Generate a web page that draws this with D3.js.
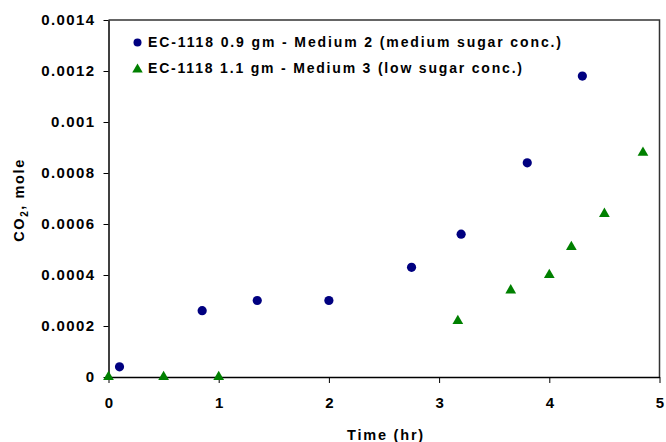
<!DOCTYPE html>
<html>
<head>
<meta charset="utf-8">
<script src="https://cdn.jsdelivr.net/npm/d3@7"></script>
<style>
  body { margin: 0; background: #fff; }
  text { font-family: Arial, "Liberation Sans", sans-serif; font-weight: bold; }
</style>
</head>
<body>
<svg id="chart" width="666" height="442"></svg>
<script>
// series 1: EC-1118 0.9 gm - Medium 2
const medium2Time = [0.1, 0.85, 1.35, 2.0, 2.75, 3.2, 3.8, 4.3];
const medium2CO2 = [0.00004, 0.00026, 0.0003, 0.0003, 0.00043, 0.00056, 0.00084, 0.00118];
// series 2: EC-1118 1.1 gm - Medium 3
const medium3Time = [0, 0.5, 1.0, 3.17, 3.65, 4.0, 4.2, 4.5, 4.85];
const medium3CO2 = [0, 0, 0, 0.00022, 0.00034, 0.0004, 0.00051, 0.00064, 0.00088];

const seriesNames = [
  "EC-1118 0.9 gm - Medium 2 (medium sugar conc.)",
  "EC-1118 1.1 gm - Medium 3 (low sugar conc.)"
];
const xTicks = [0, 1, 2, 3, 4, 5];
const yTicks = [0, 0.0002, 0.0004, 0.0006, 0.0008, 0.001, 0.0012, 0.0014];
const yTickLabels = ["0", "0.0002", "0.0004", "0.0006", "0.0008", "0.001", "0.0012", "0.0014"];

var margin = { top: 20, right: 6, bottom: 65, left: 108.5 },
  width = 666 - margin.left - margin.right,
  height = 442 - margin.top - margin.bottom;

const svg = d3.select("#chart");
const g = svg.append("g")
  .attr("transform", "translate(" + margin.left + "," + margin.top + ")");

var xScale = d3.scaleLinear().domain([0, 5]).range([0, 551]);
var yScale = d3.scaleLinear().domain([0, 0.0014]).range([357, 0]);

// plot frame (top & right)
g.append("path")
  .attr("d", "M0,0H" + xScale(5) + "V" + yScale(0))
  .attr("fill", "none")
  .attr("stroke", "#333")
  .attr("stroke-width", 1.5);

function styleTicks(sel) {
  sel.selectAll("text")
    .attr("font-size", 15)
    .attr("fill", "#000")
    .style("font-family", "Arial, 'Liberation Sans', sans-serif")
    .style("font-weight", "bold")
    .style("letter-spacing", "1.4px");
  sel.select(".domain").attr("stroke", "#000").attr("stroke-width", 1.5);
  sel.selectAll(".tick line").attr("stroke", "#000");
}

// x axis
const xAxis = g.append("g")
  .attr("transform", "translate(0," + yScale(0) + ")")
  .call(d3.axisBottom(xScale).tickValues(xTicks).tickFormat(d3.format("d")).tickSize(6).tickSizeOuter(0).tickPadding(14.5));
styleTicks(xAxis);
xAxis.selectAll("text").attr("dx", 0.7);

// y axis
const yAxis = g.append("g")
  .call(d3.axisLeft(yScale).tickValues(yTicks).tickFormat((d, i) => yTickLabels[i]).tickSize(5).tickSizeOuter(0).tickPadding(8));
styleTicks(yAxis);

// axis titles
svg.append("text")
  .attr("x", 386).attr("y", 440)
  .attr("text-anchor", "middle")
  .attr("font-size", 14.5)
  .style("letter-spacing", "1.8px")
  .text("Time (hr)");

const yTitle = svg.append("text")
  .attr("transform", "translate(23.5,200) rotate(-90)")
  .attr("text-anchor", "middle")
  .attr("font-size", 14.5)
  .style("letter-spacing", "1.6px");
yTitle.append("tspan").text("CO");
yTitle.append("tspan").attr("font-size", 10).attr("dy", 4).text("2");
yTitle.append("tspan").attr("dy", -4).text(", mole");

// markers
const blue = "#000080", green = "#008000";
const tri = d3.symbol().type(d3.symbolTriangle).size(50);

g.selectAll(".m2")
  .data(medium2Time.map((t, i) => [t, medium2CO2[i]]))
  .enter().append("circle")
  .attr("class", "m2")
  .attr("cx", d => xScale(d[0]))
  .attr("cy", d => yScale(d[1]))
  .attr("r", 4.6)
  .attr("fill", blue);

g.selectAll(".m3")
  .data(medium3Time.map((t, i) => [t, medium3CO2[i]]))
  .enter().append("path")
  .attr("class", "m3")
  .attr("transform", d => "translate(" + xScale(d[0]) + "," + yScale(d[1]) + ")")
  .attr("d", tri)
  .attr("fill", green);

// legend
const legend = svg.append("g");
legend.append("circle").attr("cx", 137.5).attr("cy", 42.5).attr("r", 4).attr("fill", blue);
legend.append("path").attr("transform", "translate(137.5,69.5)")
  .attr("d", d3.symbol().type(d3.symbolTriangle).size(48)).attr("fill", green);
legend.append("text").attr("x", 148).attr("y", 47).attr("font-size", 14)
  .attr("textLength", 413).attr("lengthAdjust", "spacing").text(seriesNames[0]);
legend.append("text").attr("x", 148).attr("y", 72.5).attr("font-size", 14)
  .attr("textLength", 374).attr("lengthAdjust", "spacing").text(seriesNames[1]);
</script>
</body>
</html>
